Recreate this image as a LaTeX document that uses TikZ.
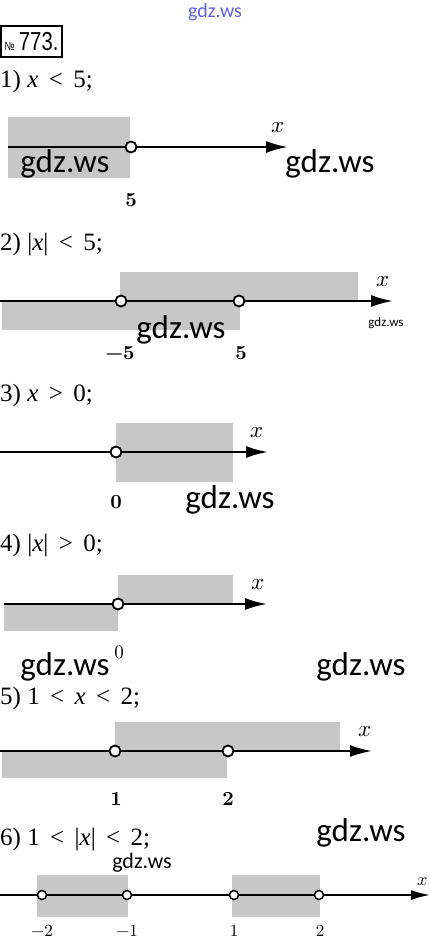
\documentclass[tikz,border=0pt]{standalone}
\usepackage{fontspec}
\usepackage{tikz}
\usetikzlibrary{positioning,arrows.meta,calc}
\newfontfamily\titlefont{Liberation Serif}
\newfontfamily\wmfont{Carlito}
\newfontfamily\numfont[FakeStretch=0.78]{Liberation Sans}
\newfontfamily\tickfont{lmroman10-regular.otf}[BoldFont=lmroman10-bold.otf]
\newfontfamily\varfont{latinmodern-math.otf}
\definecolor{bandgray}{gray}{0.78}
\definecolor{wmblue}{RGB}{95,95,225}

\begin{document}
\begin{tikzpicture}[
  x=1pt, y=-1pt,
  band/.style={fill=bandgray, draw=none},
  axisline/.style={line width=2.2pt, -{Latex[length=22pt,width=12pt]}},
  thinaxis/.style={line width=1.8pt, -{Latex[length=19pt,width=10pt]}},
  hole/.style={circle, draw, fill=white, line width=1.8pt, minimum size=11pt, inner sep=0pt},
  smallhole/.style={hole, line width=1.5pt, minimum size=9pt},
  title/.style={anchor=west, inner sep=0pt, font=\titlefont\fontsize{25}{28}\selectfont},
  tick/.style={inner sep=0pt, font=\tickfont\fontsize{20}{22}\selectfont\bfseries},
  plaintick/.style={inner sep=0pt, font=\tickfont\fontsize{19}{21}\selectfont},
  smalltick/.style={inner sep=0pt, font=\tickfont\fontsize{17}{19}\selectfont},
  axname/.style={inner sep=0pt, font=\varfont\fontsize{23}{25}\selectfont},
  wm/.style={inner sep=0pt, font=\wmfont\fontsize{33}{36}\selectfont},
  wmsmall/.style={wm, font=\wmfont\fontsize{22}{24}\selectfont}
]
\useasboundingbox (0,0) rectangle (430,944);

% --- header ---
\node[wm, font=\wmfont\fontsize{20}{22}\selectfont, text=wmblue] (wmtop) at (215,12) {gdz.ws};
\node[draw, line width=1.2pt, minimum width=61pt, minimum height=31pt, inner sep=0pt,
      font=\numfont\fontsize{26}{28}\selectfont] (num) at (31.5,41.5)
      {{\fontsize{12}{12}\selectfont №}\,773.};

% --- 1) x < 5 ---
\node[title] (t1) at (0,81) {1) \textit{x} \,<\, 5;};
\fill[band] (8,117) rectangle (130,178);
\coordinate (a1s) at (8,147);
\coordinate (a1e) at (288,147);
\draw[axisline] (a1s) -- (a1e);
\node[hole] (p1) at (131,147) {};
\node[tick] (l1) at (131,200) {5};
\node[axname] (x1) at (278,128) {𝑥};
\node[wm] (wm1a) at (65,164) {gdz.ws};
\node[wm] (wm1b) at (330,164) {gdz.ws};

% --- 2) |x| < 5 ---
\node[title] (t2) at (0,245) {2) |\textit{x}| \,<\, 5;};
\fill[band] (120,272) rectangle (358,301);
\fill[band] (2,301) rectangle (240,330);
\coordinate (a2s) at (0,301);
\coordinate (a2e) at (393,301);
\draw[axisline] (a2s) -- (a2e);
\node[hole] (p2a) at (121,301) {};
\node[hole] (p2b) at (239,301) {};
\node[tick] (l2a) at (120,353) {−5};
\node[tick] (l2b) at (241,353) {5};
\node[axname] (x2) at (383,282) {𝑥};
\node[wm] (wm2a) at (181,330) {gdz.ws};
\node[wm, font=\wmfont\fontsize{13}{14}\selectfont] (wm2b) at (386,323) {gdz.ws};

% --- 3) x > 0 ---
\node[title] (t3) at (0,395) {3) \textit{x} \,>\, 0;};
\fill[band] (116,423) rectangle (233,482);
\coordinate (a3s) at (0,452);
\coordinate (a3e) at (268,452);
\draw[axisline] (a3s) -- (a3e);
\node[hole] (p3) at (116,452) {};
\node[tick] (l3) at (116,502) {0};
\node[axname] (x3) at (257,433) {𝑥};
\node[wm] (wm3) at (230,500) {gdz.ws};

% --- 4) |x| > 0 ---
\node[title] (t4) at (0,546) {4) |\textit{x}| \,>\, 0;};
\fill[band] (118,575) rectangle (233,604);
\fill[band] (4,604) rectangle (118,631);
\coordinate (a4s) at (4,604);
\coordinate (a4e) at (267,604);
\draw[axisline] (a4s) -- (a4e);
\node[hole] (p4) at (118,604) {};
\node[plaintick] (l4) at (119,652) {0};
\node[axname] (x4) at (258,585) {𝑥};
\node[wm] (wm4a) at (65,667) {gdz.ws};
\node[wm] (wm4b) at (361,667) {gdz.ws};

% --- 5) 1 < x < 2 ---
\node[title] (t5) at (0,698) {5) 1 \,<\, \textit{x} \,<\, 2;};
\fill[band] (115,722) rectangle (340,751);
\fill[band] (2,751) rectangle (227,778);
\coordinate (a5s) at (0,751);
\coordinate (a5e) at (372,751);
\draw[axisline] (a5s) -- (a5e);
\node[hole] (p5a) at (115,751) {};
\node[hole] (p5b) at (228,751) {};
\node[tick] (l5a) at (116,799) {1};
\node[tick] (l5b) at (228,799) {2};
\node[axname] (x5) at (365,732) {𝑥};
\node[wm] (wm5) at (361,833) {gdz.ws};

% --- 6) 1 < |x| < 2 ---
\node[title] (t6) at (0,840) {6) 1 \,<\, |\textit{x}| \,<\, 2;};
\node[wmsmall] (wm6) at (142,863) {gdz.ws};
\fill[band] (37,875) rectangle (128,917);
\fill[band] (232,875) rectangle (320,917);
\coordinate (a6s) at (0,895);
\coordinate (a6e) at (430,895);
\draw[thinaxis] (a6s) -- (a6e);
\foreach \px/\nm in {42/m2, 127/m1, 234/p1, 319/p2}
  \node[smallhole] (h\nm) at (\px,895) {};
\node[smalltick] (l6a) at (42,931) {−2};
\node[smalltick] (l6b) at (127,931) {−1};
\node[smalltick] (l6c) at (234,931) {1};
\node[smalltick] (l6d) at (320,931) {2};
\node[axname, font=\varfont\fontsize{18}{20}\selectfont] (x6) at (423,882) {𝑥};

\end{tikzpicture}
\end{document}
